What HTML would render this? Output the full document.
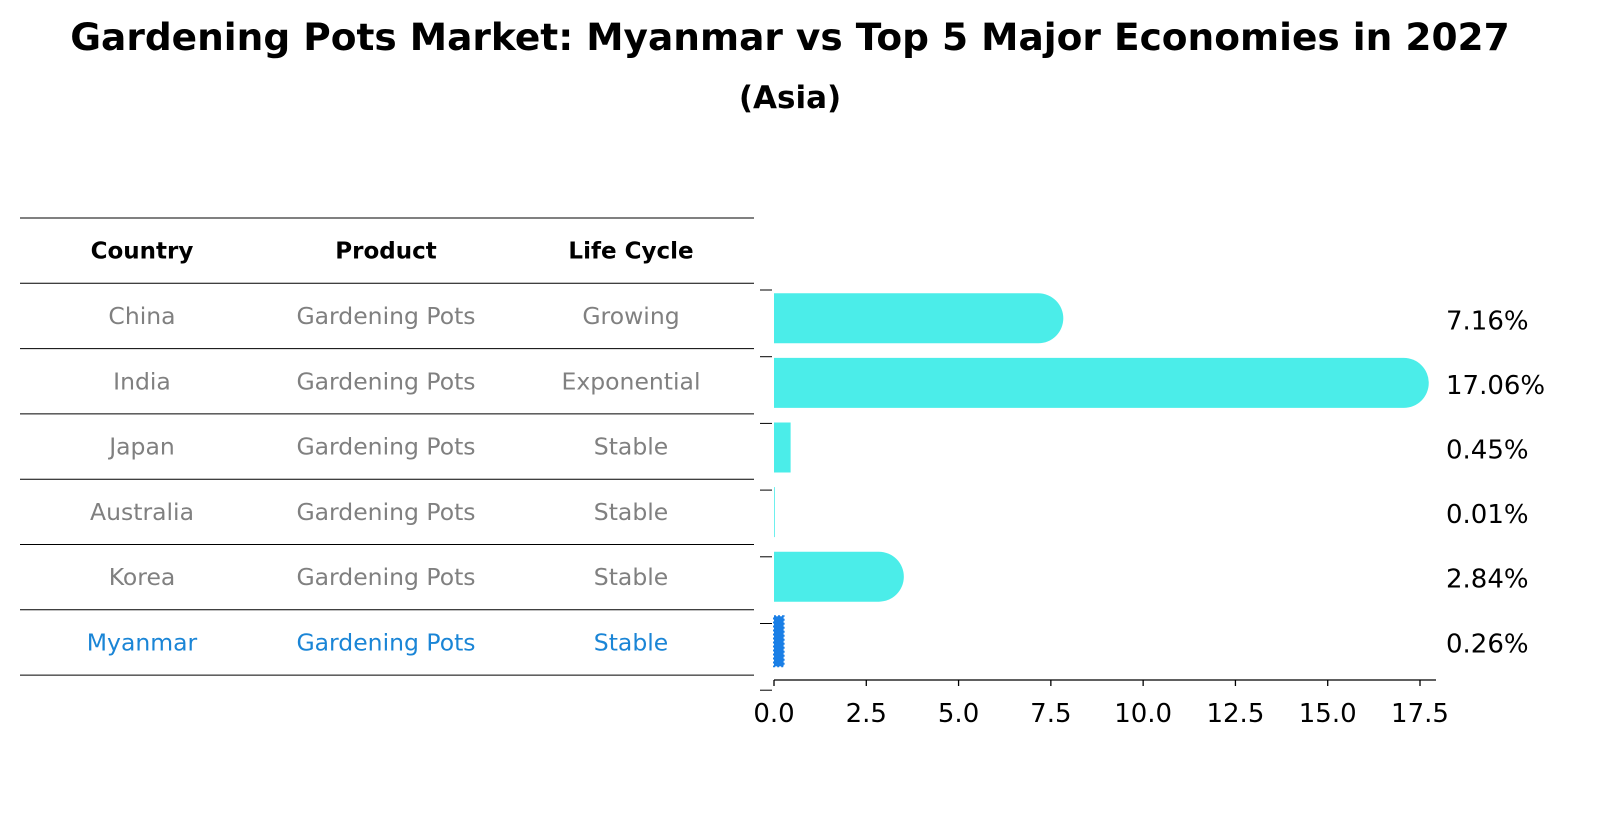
<!DOCTYPE html>
<html><head><meta charset="utf-8"><style>
html,body{margin:0;padding:0;background:#fff;width:1604px;height:823px;overflow:hidden}
svg{display:block;font-family:"DejaVu Sans","Liberation Sans",sans-serif}
</style></head><body>
<svg id="chart" width="1604" height="823" viewBox="0 0 1604 823">
<text x="790" y="50" text-anchor="middle" font-size="37.5" font-weight="bold">Gardening Pots Market: Myanmar vs Top 5 Major Economies in 2027</text>
<text x="790" y="108" text-anchor="middle" font-size="31" font-weight="bold">(Asia)</text>
<g id="table"></g>
<g id="plot"></g>
</svg>
<script>
const countries = ["China","India","Japan","Australia","Korea","Myanmar"];
const products = ["Gardening Pots","Gardening Pots","Gardening Pots","Gardening Pots","Gardening Pots","Gardening Pots"];
const lifeCycles = ["Growing","Exponential","Stable","Stable","Stable","Stable"];
const values = [7.16,17.06,0.45,0.01,2.84,0.26];
const xTicks = [0,2.5,5,7.5,10,12.5,15,17.5];
const highlight = "Myanmar";

const NS="http://www.w3.org/2000/svg";
function mk(tag,attrs,parent,text){const e=document.createElementNS(NS,tag);for(const k in attrs)e.setAttribute(k,attrs[k]);if(text!==undefined)e.textContent=text;parent.appendChild(e);return e;}
const table=document.getElementById('table');
const plot=document.getElementById('plot');

// table
const rowTop=218,rowH=65.3,colX=[142,386,631];
const headers=["Country","Product","Life Cycle"];
for(let i=0;i<=countries.length+1;i++){
  const y=rowTop+i*rowH;
  const l=mk('line',{x1:20,x2:754,y1:y,y2:y,stroke:'#000','stroke-width':1},table);
  
  
}
headers.forEach((h,j)=>{
  const t=mk('text',{x:colX[j],y:rowTop+rowH/2+8,'text-anchor':'middle','font-size':23,'font-weight':'bold'},table,h);
  
  
});
countries.forEach((c,i)=>{
  const y=rowTop+(i+1)*rowH+rowH/2+8;
  const col=c===highlight?'#1a85d6':'#808080';
  [c,products[i],lifeCycles[i]].forEach((v,j)=>{
    const t=mk('text',{x:colX[j],y:y,'text-anchor':'middle','font-size':23.5,fill:col},table,v);
    
    
  });
});

// bars
const x0=774,pxPer=(1420-774)/17.5;
const xs=v=>x0+v*pxPer;
const bandTop=286,band=64.6,barH=50;
const yc=i=>bandTop+band*i+band/2;
values.forEach((v,i)=>{
  const cy=yc(i),w=xs(v)-x0;
  const isH=countries[i]===highlight;
  let el;
  if(isH){
    el=mk('rect',{x:x0,y:cy-barH/2,width:Math.max(w,0.5),height:barH,fill:'#1a7fe6',stroke:'#1a7fe6','stroke-width':2,'stroke-dasharray':'2 2'},plot);
  } else if(w>barH){
    const r=barH/2,xe=xs(v);
    el=mk('path',{d:`M${x0},${cy-r} L${xe},${cy-r} A${r},${r} 0 0 1 ${xe},${cy+r} L${x0},${cy+r} Z`,fill:'#4bede9'},plot);
  } else {
    el=mk('rect',{x:x0,y:cy-barH/2,width:Math.max(w,0.8),height:barH,fill:'#4bede9'},plot);
  }
  
  
  const t=mk('text',{x:1446,y:cy+11,'font-size':26},plot,v.toFixed(2)+'%');
  
  
});
// left small ticks
for(let i=0;i<=values.length;i++){
  const y=290+66.7*i;
  const l=mk('line',{x1:760,x2:772,y1:y,y2:y,stroke:'#000','stroke-width':1},plot);
  
  
}
// x axis
const ax=mk('line',{x1:x0,x2:1436,y1:680,y2:680,stroke:'#000','stroke-width':1.3},plot);


xTicks.forEach(t=>{
  const x=xs(t);
  const l=mk('line',{x1:x,x2:x,y1:680,y2:686,stroke:'#000','stroke-width':1.3},plot);
  
  
  const tx=mk('text',{x:x,y:722,'text-anchor':'middle','font-size':26},plot,t.toFixed(1));
  
  
});
</script>
</body></html>
